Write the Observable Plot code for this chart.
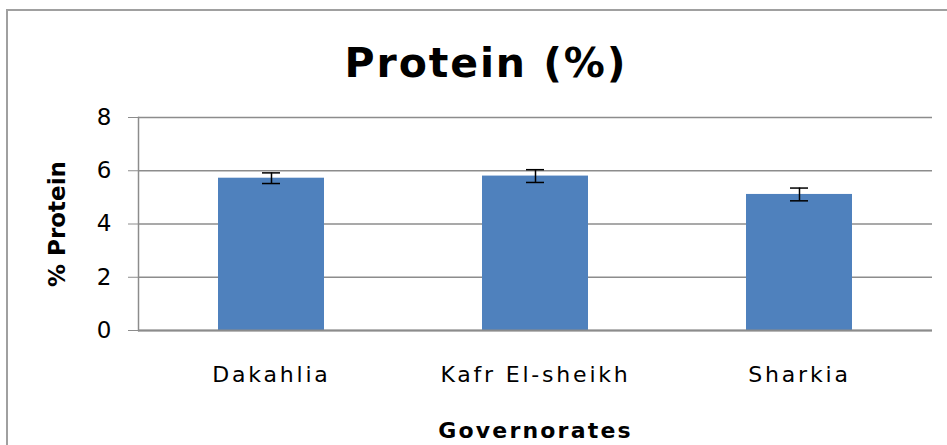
<!DOCTYPE html>
<html>
<head>
<meta charset="utf-8">
<script src="https://cdn.jsdelivr.net/npm/d3@7"></script>
<script src="https://cdn.jsdelivr.net/npm/@observablehq/plot@0.6"></script>
<style>
  html, body { margin: 0; padding: 0; background: #fff; }
  #wrap { position: relative; width: 947px; height: 445px; overflow: hidden; font-family: "DejaVu Sans", sans-serif; }
  #border { position: absolute; left: 6px; top: 9px; width: 1000px; height: 1000px; border: 2px solid #a0a0a0; box-sizing: border-box; }
  #title { position: absolute; left: 0; width: 972px; top: 39px; text-align: center; font-size: 41px; font-weight: bold; letter-spacing: 1.9px; color: #000; }
  #chart { position: absolute; left: 0; top: 0; }
  #chart svg { overflow: visible; }
  g[aria-label="x-axis tick label"] text { letter-spacing: 2.8px; }
  g[aria-label="y-axis label"] text, g[aria-label="x-axis label"] text { font-weight: bold; }
  g[aria-label="x-axis label"] text { letter-spacing: 2.2px; }
</style>
</head>
<body>
<div id="wrap">
  <div id="border"></div>
  <div id="title">Protein (%)</div>
  <div id="chart"></div>
</div>
<script>
const governorates = ["Dakahlia", "Kafr El-sheikh", "Sharkia"];
const protein = [5.72, 5.80, 5.11];
const errors = [0.20, 0.24, 0.24];
const yTicks = [0, 2, 4, 6, 8];

const data = governorates.map((g, i) => ({gov: g, value: protein[i], lo: protein[i] - errors[i], hi: protein[i] + errors[i]}));

const chart = Plot.plot({
  width: 947,
  height: 445,
  marginLeft: 138,
  marginRight: 15,
  marginTop: 117,
  marginBottom: 115,
  style: {fontFamily: "DejaVu Sans, sans-serif", background: "transparent", color: "#000"},
  x: {domain: governorates, paddingInner: 0.6, paddingOuter: 0.3, label: null},
  y: {domain: [0, 8], ticks: yTicks},
  marks: [
    Plot.gridY(yTicks, {stroke: "#8c8c8c", strokeWidth: 1.5, strokeOpacity: 1}),
    Plot.axisY({ticks: yTicks, tickSize: 10, tickPadding: 17, fontSize: 23, stroke: "#8c8c8c",
      label: "% Protein", labelAnchor: "center", labelOffset: 90, labelArrow: "none"}),
    Plot.frame({anchor: "left", stroke: "#8c8c8c", strokeWidth: 1.5}),
    Plot.barY(data, {x: "gov", y: "value", fill: "#4f81bd"}),
    Plot.ruleY([0], {stroke: "#8c8c8c", strokeWidth: 2}),
    Plot.axisX({tickSize: 0, tickPadding: 36, fontSize: 22,
      label: "Governorates", labelAnchor: "center", labelOffset: 107, labelArrow: "none"}),
    Plot.ruleX(data, {x: "gov", y1: "lo", y2: "hi", stroke: "#000", strokeWidth: 1.5}),
    Plot.tickY(data, {x: "gov", y: "lo", stroke: "#000", strokeWidth: 1.5, insetLeft: 44, insetRight: 44}),
    Plot.tickY(data, {x: "gov", y: "hi", stroke: "#000", strokeWidth: 1.5, insetLeft: 44, insetRight: 44})
  ]
});
document.getElementById("chart").appendChild(chart);
</script>
</body>
</html>
